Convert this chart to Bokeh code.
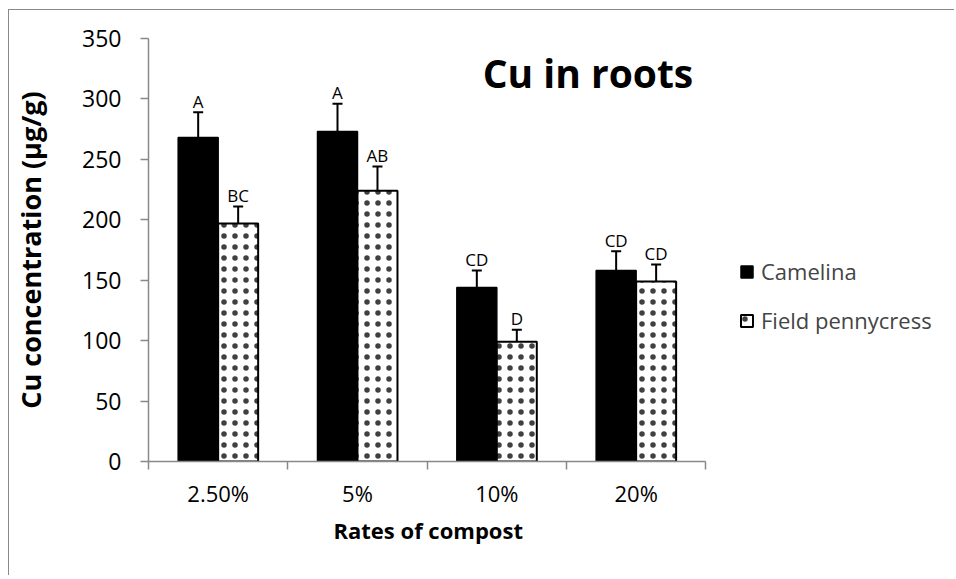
from bokeh.plotting import figure
from bokeh.models import (ColumnDataSource, FixedTicker, Whisker, TeeHead, Label,
                          Legend, LegendItem, Range1d, Title)
from bokeh.embed import file_html
from bokeh.resources import INLINE
from bokeh.core.properties import value

categories = ["2.50%", "5%", "10%", "20%"]
camelina = [268, 273, 144, 158]
camelina_err = [21, 23, 14, 16]
camelina_letters = ["A", "A", "CD", "CD"]
pennycress = [197, 224, 99, 149]
pennycress_err = [14, 20, 10, 14]
pennycress_letters = ["BC", "AB", "D", "CD"]
y_ticks = [0, 50, 100, 150, 200, 250, 300, 350]

FONT = "Open Sans"
GRAY = "#898989"
BAR_W = 0.287

W, H = 946, 566
BL, BR, BT, BB = 138, 5, 28, 115
AXIS_PX = 558                      # pixel length of the category axis
n = len(categories)
FRAME_W = W - BL - BR
x_end = n * FRAME_W / AXIS_PX      # frame extends past the axis to host the legend

p = figure(width=W, height=H, output_backend="svg", toolbar_location=None,
           x_range=Range1d(0, x_end), y_range=Range1d(0, 350),
           min_border_left=BL, min_border_right=BR, min_border_top=BT,
           min_border_bottom=BB)
p.styles = {"border-top": "1.5px solid #898989", "border-left": "1.5px solid #898989",
            "margin-left": "8px", "margin-top": "9px"}
p.outline_line_color = None
p.grid.visible = False
p.background_fill_color = "white"

xc = [i + 0.5 - BAR_W / 2 for i in range(n)]
xp = [i + 0.5 + BAR_W / 2 for i in range(n)]

src_c = ColumnDataSource(dict(x=xc, top=camelina, upper=[v + e for v, e in zip(camelina, camelina_err)],
                              lab=camelina_letters))
src_p = ColumnDataSource(dict(x=xp, top=pennycress, upper=[v + e for v, e in zip(pennycress, pennycress_err)],
                              lab=pennycress_letters))

r_c = p.vbar(x="x", top="top", bottom=0, width=BAR_W, source=src_c,
             fill_color="black", line_color="black", line_width=1.5)
r_p = p.vbar(x="x", top="top", bottom=0, width=BAR_W, source=src_p,
             fill_color="white", line_color="black", line_width=2,
             hatch_pattern="dot", hatch_color="black", hatch_scale=11, hatch_alpha=0.75)

for src in (src_c, src_p):
    w = Whisker(source=src, base="x", upper="upper", lower="top",
                line_color="black", line_width=2,
                upper_head=TeeHead(size=10, line_color="black", line_width=2),
                lower_head=None)
    p.add_layout(w)
    p.text(x="x", y="upper", text="lab", source=src, text_align="center",
           text_baseline="alphabetic", y_offset=-11, text_font=value(FONT),
           text_font_size="17px", text_color="black")

# axes
p.xaxis.ticker = FixedTicker(ticks=[i + 0.5 for i in range(n)], minor_ticks=list(range(n + 1)))
p.xaxis.bounds = (0, n)
p.xaxis.major_label_overrides = {i + 0.5: c for i, c in enumerate(categories)}
p.xaxis.major_tick_out = 0
p.xaxis.major_tick_in = 0
p.xaxis.minor_tick_out = 8
p.xaxis.minor_tick_in = 0
p.xaxis.minor_tick_line_color = GRAY
p.xaxis.minor_tick_line_width = 1.5
p.xaxis.axis_line_color = GRAY
p.xaxis.axis_line_width = 1.5
p.xaxis.major_label_text_font = FONT
p.xaxis.major_label_text_font_size = "22px"
p.xaxis.major_label_text_color = "black"
p.xaxis.major_label_standoff = 8

# x-axis title, centred under the category axis (not the wider frame)
XT_W = 188  # approx rendered width of the x-axis title
xtitle = Title(text="Rates of compost", align="left", offset=AXIS_PX / 2 - XT_W / 2,
               text_font=FONT, text_font_size="22px", text_font_style="bold",
               text_color="black", standoff=4)
p.add_layout(xtitle, "below")

p.yaxis.ticker = FixedTicker(ticks=y_ticks, minor_ticks=[])
p.yaxis.major_tick_out = 8
p.yaxis.major_tick_in = 0
p.yaxis.major_tick_line_color = GRAY
p.yaxis.major_tick_line_width = 1.5
p.yaxis.axis_line_color = GRAY
p.yaxis.axis_line_width = 1.5
p.yaxis.major_label_text_font = FONT
p.yaxis.major_label_text_font_size = "23px"
p.yaxis.major_label_text_color = "black"
p.yaxis.major_label_standoff = 19
p.yaxis.axis_label = "Cu concentration (µg/g)"
p.yaxis.axis_label_text_font = FONT
p.yaxis.axis_label_text_font_size = "27px"
p.yaxis.axis_label_text_font_style = "bold"
p.yaxis.axis_label_text_color = "black"
p.yaxis.axis_label_standoff = 30

title = Label(x=3.154, y=322, text="Cu in roots", text_align="center",
              text_baseline="alphabetic", text_font=FONT, text_font_size="39px",
              text_font_style="bold", text_color="black")
p.add_layout(title)

legend = Legend(items=[LegendItem(label="Camelina", renderers=[r_c]),
                       LegendItem(label="Field pennycress", renderers=[r_p])],
                location=(591, 126), padding=0, margin=0, spacing=19,
                glyph_width=15, glyph_height=15, label_height=24, label_standoff=7,
                label_text_font=FONT, label_text_font_size="22px",
                background_fill_alpha=0, border_line_color=None)
p.add_layout(legend, "center")

open("out.html", "w").write(file_html(p, INLINE))
